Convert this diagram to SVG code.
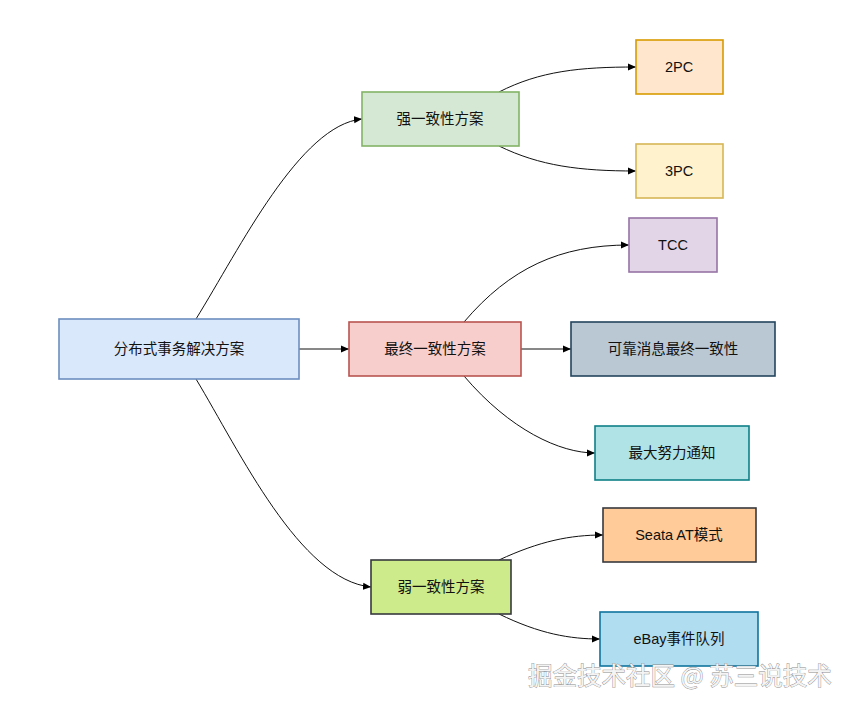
<svg xmlns="http://www.w3.org/2000/svg" width="858" height="708" viewBox="0 0 858 708">
<defs>
<marker id="arr" viewBox="0 0 10 10" refX="10" refY="5" markerWidth="8" markerHeight="8" markerUnits="userSpaceOnUse" orient="auto">
<path d="M0,0.5 L10,5 L0,9.5 Z" fill="#000"/>
</marker>
<style>
.n{stroke-width:1.6}
.t{font-family:"Liberation Sans","Noto Sans CJK SC",sans-serif;font-size:14.5px;fill:#111;text-anchor:middle;dominant-baseline:central}
.e{fill:none;stroke:#111;stroke-width:1;marker-end:url(#arr)}
.wm{font-family:"Noto Sans CJK SC",sans-serif;font-size:24.5px;fill:#f4f4f4;stroke:#8a8a8a;stroke-width:0.8;paint-order:stroke}
</style>
</defs>
<rect width="858" height="708" fill="#fff"/>
<g id="connectors">
<path class="e" d="M196,319 C240,248 300,125 362,119"/>
<path class="e" d="M299,349 L349,349"/>
<path class="e" d="M196,379 C240,452 300,580 371,587"/>
<path class="e" d="M499,92 C540,71 580,67 636,67"/>
<path class="e" d="M499,146 C540,166 580,171 636,171"/>
<path class="e" d="M464,322 C510,268 560,245 629,245"/>
<path class="e" d="M521,349 L571,349"/>
<path class="e" d="M464,376 C510,430 560,453 595,453"/>
<path class="e" d="M499,560 C540,541 570,535 603,535"/>
<path class="e" d="M499,614 C540,634 570,639 600,639"/>
</g>
<g id="root"><rect class="n" x="59" y="319" width="240" height="60" fill="#dae8fc" stroke="#6c8ebf"/><text class="t" x="179" y="349">分布式事务解决方案</text></g>
<g id="strong"><rect class="n" x="362" y="92" width="157" height="54" fill="#d5e8d4" stroke="#82b366"/><text class="t" x="440" y="119">强一致性方案</text></g>
<g id="pc2"><rect class="n" x="636" y="40" width="87" height="54" fill="#ffe6cc" stroke="#d79b00"/><text class="t" x="679" y="67">2PC</text></g>
<g id="pc3"><rect class="n" x="636" y="144" width="87" height="54" fill="#fff2cc" stroke="#d6b656"/><text class="t" x="679" y="171">3PC</text></g>
<g id="tcc"><rect class="n" x="629" y="218" width="88" height="54" fill="#e1d5e7" stroke="#9673a6"/><text class="t" x="673" y="245">TCC</text></g>
<g id="eventual"><rect class="n" x="349" y="322" width="172" height="54" fill="#f8cecc" stroke="#b85450"/><text class="t" x="435" y="349">最终一致性方案</text></g>
<g id="reliable"><rect class="n" x="571" y="322" width="204" height="54" fill="#bac8d3" stroke="#23445d"/><text class="t" x="673" y="349">可靠消息最终一致性</text></g>
<g id="besteffort"><rect class="n" x="595" y="426" width="154" height="54" fill="#b0e3e6" stroke="#0e8088"/><text class="t" x="672" y="453">最大努力通知</text></g>
<g id="weak"><rect class="n" x="371" y="560" width="140" height="54" fill="#cdeb8b" stroke="#36393d"/><text class="t" x="441" y="587">弱一致性方案</text></g>
<g id="seata"><rect class="n" x="603" y="508" width="153" height="54" fill="#ffcc99" stroke="#36393d"/><text class="t" x="679" y="535">Seata AT模式</text></g>
<g id="ebay"><rect class="n" x="600" y="612" width="158" height="54" fill="#b1ddf0" stroke="#10739e"/><text class="t" x="679" y="639">eBay事件队列</text></g>
<text class="wm" x="528" y="685">掘金技术社区 @ 苏三说技术</text>
</svg>
